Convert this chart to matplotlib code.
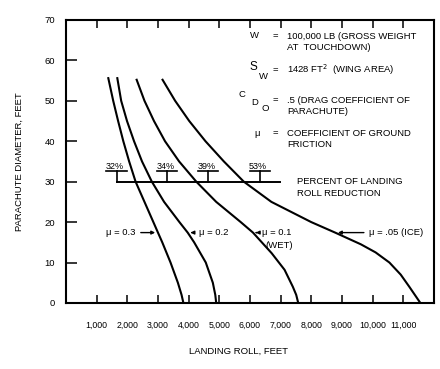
import numpy as np
import matplotlib
matplotlib.use("Agg")
import matplotlib.pyplot as plt

plt.rcParams["font.family"] = ["Liberation Sans", "DejaVu Sans"]

# curves: landing roll (ft) vs parachute diameter (ft)
diam = [55.6, 50, 45, 40, 35, 30, 25, 20, 17.4, 15, 10, 5, 2, 0]
roll_mu03 = [1380, 1540, 1700, 1870, 2060, 2270, 2560, 2850, 3000, 3140, 3410, 3650, 3770, 3830]
roll_mu02 = [1674, 1800, 1990, 2220, 2480, 2800, 3200, 3700, 3970, 4180, 4560, 4790, 4870, 4900]
diam_b = [55.2, 50, 45, 40, 35, 30, 25, 20, 17.4, 12.3, 8.2, 4, 2, 0]
roll_mu01 = [2305, 2560, 2870, 3230, 3690, 4250, 4900, 5700, 6100, 6710, 7130, 7400, 7510, 7576]
diam_c = [55.2, 50, 45, 40, 35, 30, 25, 20, 17.4, 14.5, 12.5, 10, 7, 4, 0]
roll_mu005 = [3150, 3560, 4020, 4550, 5150, 5800, 6700, 8000, 8780, 9620, 10100, 10550,
              10920, 11200, 11560]

pct_x = [1650, 3300, 4640, 6330]
pct_labels = ["32%", "34%", "39%", "53%"]

xticks = list(range(1000, 12000, 1000))
xtick_labels = [f"{v:,}" for v in xticks]
yticks = list(range(0, 80, 10))

fig = plt.figure(figsize=(4.4, 3.69), dpi=100)
ax = fig.add_axes([0.15, 0.179, 0.836, 0.767])

for xs, ys in [(roll_mu03, diam), (roll_mu02, diam), (roll_mu01, diam_b), (roll_mu005, diam_c)]:
    ax.plot(xs, ys, color="black", lw=1.5, solid_joinstyle="round")

# percent of landing roll reduction bar
ax.plot([pct_x[0], 6980], [30, 30], color="black", lw=1.4)
for px, lab in zip(pct_x, pct_labels):
    ax.plot([px, px], [30, 32.6], color="black", lw=1.2)
    ax.plot([px - 330, px + 330], [32.6, 32.6], color="black", lw=1.2)
    ax.text(px - 60, 32.7, lab, ha="center", va="bottom", fontsize=6.5)
ax.text(7550, 28.6, "PERCENT OF LANDING\nROLL REDUCTION", fontsize=6.8, va="center",
        linespacing=1.35)

# curve labels
arrow = dict(arrowstyle="-|>", color="black", lw=1.0, mutation_scale=5)
fl = 6.8
ax.annotate("μ = 0.3", xy=(3000, 17.4), xytext=(1300, 17.4), fontsize=fl,
            va="center", arrowprops=arrow)
ax.annotate("μ = 0.2", xy=(3970, 17.4), xytext=(4330, 17.4), fontsize=fl,
            va="center", arrowprops=arrow)
ax.annotate("μ = 0.1", xy=(6100, 17.4), xytext=(6400, 17.4), fontsize=fl,
            va="center", arrowprops=arrow)
ax.text(6950, 14.2, "(WET)", fontsize=fl, ha="center", va="center")
ax.annotate("μ = .05 (ICE)", xy=(8780, 17.4), xytext=(9900, 17.4), fontsize=fl,
            va="center", arrowprops=arrow)

# parameter block
fs = 6.8
ax.text(6160, 66.2, "W", fontsize=fs, ha="center", va="center")
ax.text(6815, 66.0, "=", fontsize=fs, ha="center", va="center")
ax.text(7220, 64.6, "100,000 LB (GROSS WEIGHT\nAT  TOUCHDOWN)", fontsize=fs, va="center",
        linespacing=1.25)
ax.text(6110, 58.3, "S", fontsize=8.5, ha="center", va="center")
ax.text(6430, 56.0, "W", fontsize=fs, ha="center", va="center")
ax.text(6815, 57.6, "=", fontsize=fs, ha="center", va="center")
ax.text(7220, 57.8, "1428 FT$^2$  (WING AREA)", fontsize=fs, va="center")
ax.text(5730, 51.6, "C", fontsize=fs, ha="center", va="center")
ax.text(6160, 49.6, "D", fontsize=fs, ha="center", va="center")
ax.text(6490, 48.2, "O", fontsize=fs, ha="center", va="center")
ax.text(6815, 50.2, "=", fontsize=fs, ha="center", va="center")
ax.text(7220, 48.7, ".5 (DRAG COEFFICIENT OF\nPARACHUTE)", fontsize=fs, va="center",
        linespacing=1.25)
ax.text(6220, 42, "μ", fontsize=fs, ha="center", va="center")
ax.text(6815, 42, "=", fontsize=fs, ha="center", va="center")
ax.text(7220, 40.6, "COEFFICIENT OF GROUND\nFRICTION", fontsize=fs, va="center",
        linespacing=1.25)

ax.set_xlim(0, 12000)
ax.set_ylim(0, 70)
ax.set_xticks(xticks)
ax.set_xticklabels(xtick_labels, fontsize=6.3)
ax.set_yticks(yticks)
ax.set_yticklabels([str(v) for v in yticks], fontsize=6.8)
ax.tick_params(axis="x", direction="in", length=6, width=1.1, pad=13, top=True)
ax.tick_params(axis="y", direction="in", length=8, width=1.1, pad=8)
for s in ax.spines.values():
    s.set_linewidth(1.5)

ax.set_xlabel("LANDING ROLL, FEET", fontsize=6.8)
ax.xaxis.set_label_coords(0.47, -0.155)
ax.set_ylabel("PARACHUTE DIAMETER, FEET", fontsize=6.8)
ax.yaxis.set_label_coords(-0.115, 0.5)

fig.savefig("out.png", dpi=100)
